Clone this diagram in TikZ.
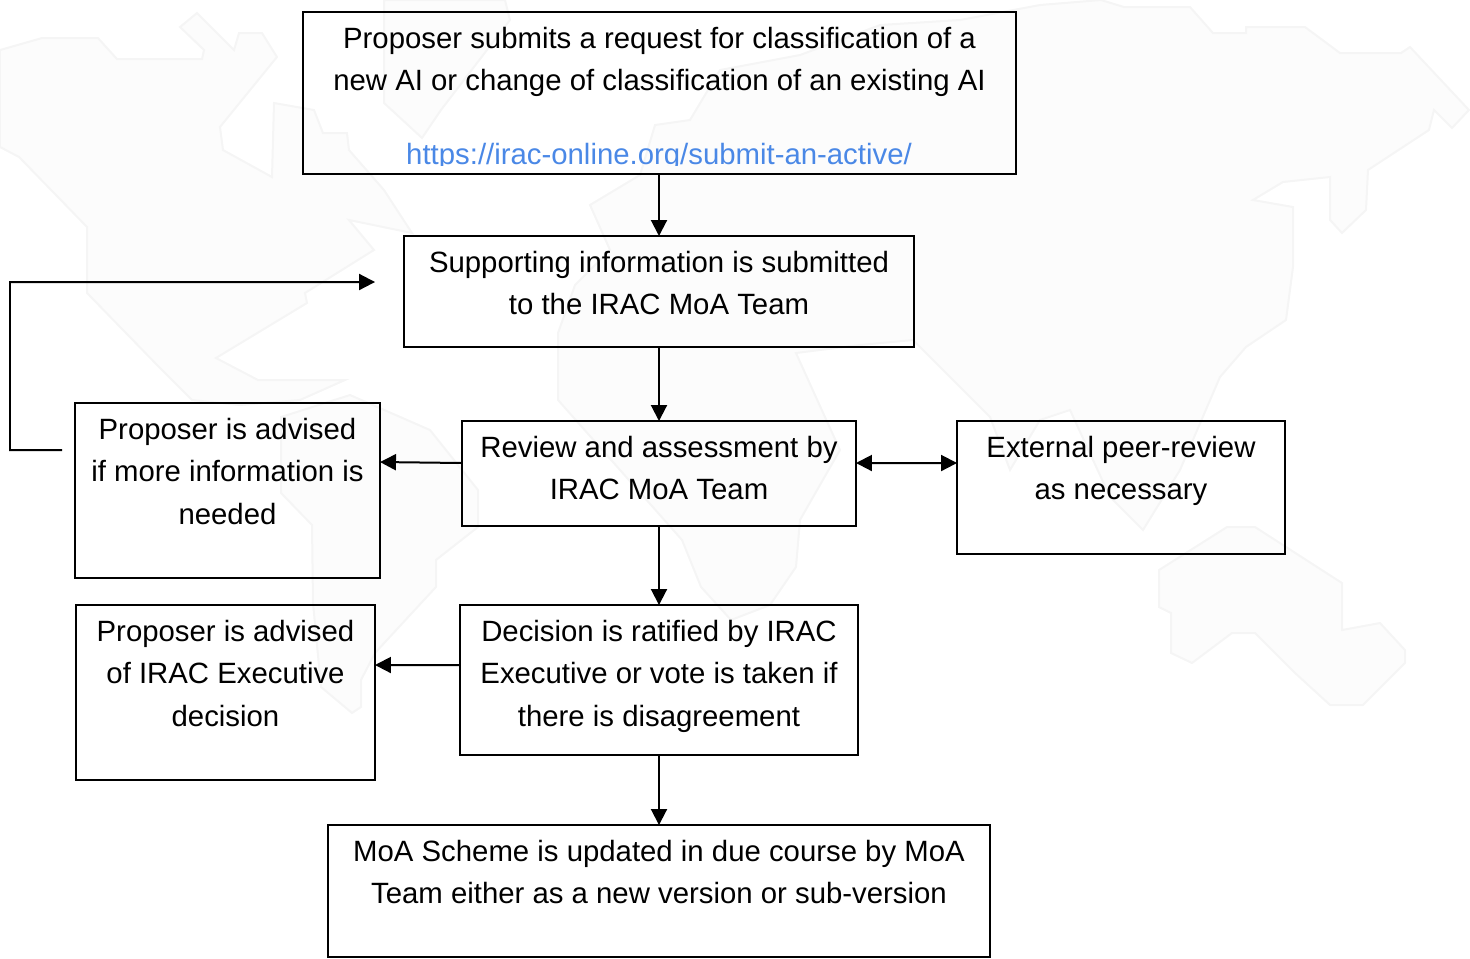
\documentclass[tikz,border=0pt]{standalone}
\usepackage{fontspec}
\setmainfont{Liberation Sans}
\usepackage{xcolor}
\usepackage{tikz}
\usetikzlibrary{arrows.meta,positioning}
\definecolor{linkblue}{HTML}{4A88E6}
\definecolor{landfill}{HTML}{FCFCFC}
\definecolor{landedge}{HTML}{F5F5F5}
\newcommand{\boxlines}[3]{\parbox[c][#2][t]{#1}{\centering\fontsize{16.7}{24.2}\selectfont\rule{0pt}{20.6pt}#3\par}}
\tikzset{
  flowbox/.style={rectangle,draw=black,line width=0.04cm,inner sep=0pt,outer sep=0pt},
  land/.style={fill=landfill,draw=landedge,line width=0.04cm}
}

\begin{document}
\begin{tikzpicture}[x=0.02cm,y=-0.02cm,->,>={Triangle[length=0.32cm,width=0.32cm]},line width=0.04cm]
    \useasboundingbox (0,0) rectangle (1470,958);

    % faint map behind the boxes
    \begin{scope}[-]
    \draw[land] (0,50) -- (42,38) -- (98,38) -- (117,59) -- (202,59) -- (204,50) -- (180,27) -- (197,13) -- (234,50) -- (239,33) -- (262,33) -- (277,57) -- (220,127) -- (223,150) -- (272,177) -- (274,103) -- (314,110) -- (323,133) -- (347,133) -- (349,150) -- (384,190) -- (412,233) -- (349,220) -- (374,250) -- (305,293) -- (307,303) -- (216,358) -- (258,380) -- (345,380) -- (300,400) -- (240,405) -- (192,400) -- (159,367) -- (87,293) -- (87,227) -- (19,157) -- (0,147) -- cycle;
    \draw[land] (281,417) -- (350,395) -- (430,430) -- (478,490) -- (478,527) -- (436,560) -- (436,587) -- (375,653) -- (361,680) -- (361,707) -- (352,713) -- (321,687) -- (313,603) -- (312,525) -- (281,493) -- cycle;
    \draw[land] (384,0) -- (505,0) -- (510,20) -- (441,110) -- (422,138) -- (384,103) -- cycle;
    \draw[land] (558,333) -- (575,285) -- (610,250) -- (590,205) -- (640,175) -- (655,125) -- (690,120) -- (720,70) -- (800,55) -- (880,25) -- (960,20) -- (1040,5) -- (1101,0) -- (1124,7) -- (1190,7) -- (1213,33) -- (1246,33) -- (1246,27) -- (1305,27) -- (1340,53) -- (1401,53) -- (1410,47) -- (1469,110) -- (1452,128) -- (1434,110) -- (1429,130) -- (1368,170) -- (1366,210) -- (1342,233) -- (1330,220) -- (1330,177) -- (1283,182) -- (1253,200) -- (1293,207) -- (1293,267) -- (1286,320) -- (1246,347) -- (1220,377) -- (1180,470) -- (1143,530) -- (1110,497) -- (1070,410) -- (1040,420) -- (1010,470) -- (990,417) -- (913,340) -- (860,345) -- (796,353) -- (815,395) -- (840,450) -- (800,520) -- (796,567) -- (770,605) -- (731,620) -- (701,587) -- (682,540) -- (558,400) -- cycle;
    \draw[land] (1159,570) -- (1227,527) -- (1255,527) -- (1342,583) -- (1342,630) -- (1380,623) -- (1405,650) -- (1405,663) -- (1363,705) -- (1330,705) -- (1295,673) -- (1255,633) -- (1232,633) -- (1192,663) -- (1171,653) -- (1171,613) -- (1159,607) -- cycle;
    \end{scope}

    \node[flowbox] (submit) at (659.5,93) {\boxlines{14.26cm}{3.24cm}{Proposer submits a request for classification of a\\new AI or change of classification of an existing AI}};
    \node[flowbox] (support) at (659,291.5) {\boxlines{10.2cm}{2.22cm}{Supporting information is submitted\\to the IRAC MoA Team}};
    \node[flowbox] (review) at (659,473.5) {\boxlines{7.88cm}{2.1cm}{Review and assessment by\\IRAC MoA Team}};
    \node[flowbox] (external) at (1121,487.5) {\boxlines{6.56cm}{2.66cm}{External peer-review\\as necessary}};
    \node[flowbox] (advisedinfo) at (227.5,490.5) {\boxlines{6.1cm}{3.5cm}{Proposer is advised\\if more information is\\needed}};
    \node[flowbox] (advisedexec) at (225.5,692.5) {\boxlines{5.98cm}{3.5cm}{Proposer is advised\\of IRAC Executive\\decision}};
    \node[flowbox] (decision) at (659,680) {\boxlines{7.96cm}{3cm}{Decision is ratified by IRAC\\Executive or vote is taken if\\there is disagreement}};
    \node[flowbox] (update) at (659,891) {\boxlines{13.24cm}{2.64cm}{MoA Scheme is updated in due course by MoA\\Team either as a new version or sub-version}};

    % link is cut off at its foot
    \begin{scope}
    \clip (303,120) rectangle (1016,165);
    \node[text=linkblue,font=\fontsize{16.7}{24.2}\selectfont,inner sep=0pt,anchor=base] (link) at (659,164.5) {https://irac-online.org/submit-an-active/};
    \end{scope}

    \draw (support.north |- submit.south) -- (support.north);
    \draw (support.south) -- (review.north);
    \draw (review.south) -- (decision.north);
    \draw (decision.south) -- (update.north);
    \draw ([yshift=0.21cm]review.west) -- ([yshift=0.57cm]advisedinfo.east);
    \draw ([yshift=0.3cm]decision.west) -- ([yshift=0.55cm]advisedexec.east);
    \draw[<->] ([yshift=0.21cm]review.east) -- ([yshift=0.49cm]external.west);

    % back to the supporting information
    \coordinate[left=0.26cm of advisedinfo.west,yshift=0.81cm] (backstart);
    \coordinate[left=0.58cm of support.west,yshift=0.19cm] (backend);
    \draw (backstart) -| (10,282) -- (backend);
\end{tikzpicture}
\end{document}
